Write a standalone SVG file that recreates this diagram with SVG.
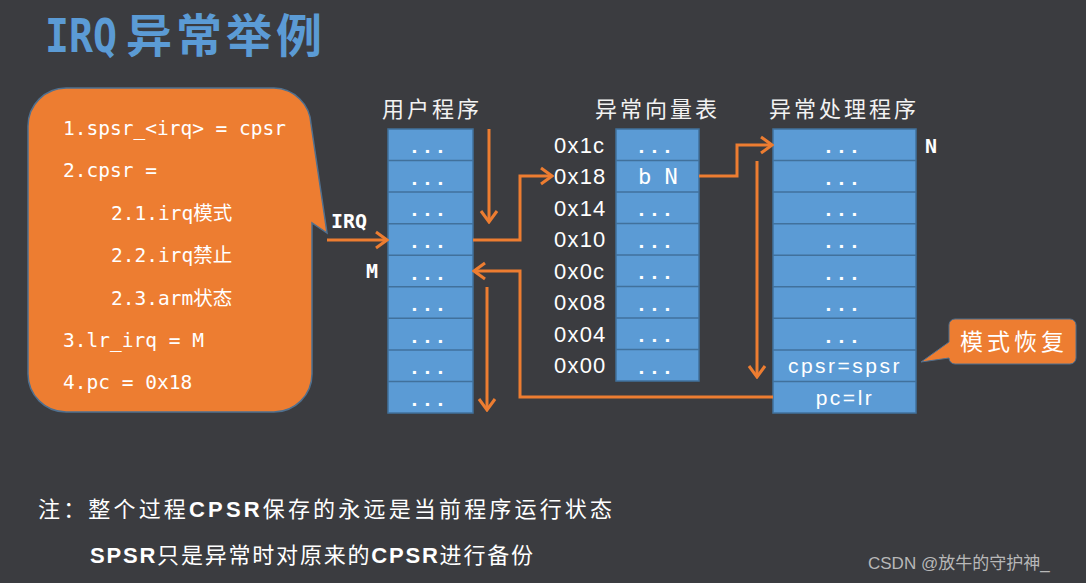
<svg xmlns="http://www.w3.org/2000/svg" width="1086" height="583" viewBox="0 0 1086 583">
<style>
.cell{fill:#5b9bd5;stroke:#41719c;stroke-width:1.5}
.sep{stroke:#41719c;stroke-width:1.5}
.dots{font-family:"Liberation Sans",sans-serif;font-weight:bold;font-size:21px;fill:#ffffff;letter-spacing:7.2px;text-anchor:middle}
.hdr{font-family:"Noto Sans CJK SC",sans-serif;font-size:22px;fill:#f2f2f2;letter-spacing:3px}
.addr{font-family:"Liberation Sans",sans-serif;font-size:22px;fill:#ffffff;letter-spacing:1.2px}
.mono{font-family:"DejaVu Sans Mono","Noto Sans CJK SC",monospace;fill:#ffffff}
.bub{font-family:"DejaVu Sans Mono","Noto Sans CJK SC",monospace;font-size:19.5px;fill:#ffffff}
.cell-txt{font-family:"Liberation Sans",sans-serif;font-size:21px;fill:#ffffff;letter-spacing:2.5px;text-anchor:middle}
.note{font-family:"Noto Sans CJK SC",sans-serif;font-size:22px;fill:#ffffff}
.arr{fill:none;stroke:#ed7d31;stroke-width:3;stroke-linejoin:miter}
</style>
<defs>
<marker id="ah" markerUnits="userSpaceOnUse" markerWidth="16" markerHeight="20" viewBox="0 0 16 20" refX="14" refY="10" orient="auto">
<path d="M3,2 L14,10 L3,18" fill="none" stroke="#ed7d31" stroke-width="3"/>
</marker>
</defs>
<rect width="1086" height="583" fill="#3b3c40"/>

<g id="title">
<text x="45" y="52" font-family="DejaVu Sans Mono,Liberation Sans,sans-serif" font-weight="bold" font-size="46" fill="#5b9bd5" textLength="72" lengthAdjust="spacingAndGlyphs">IRQ</text>
<text x="126" y="52" font-family="Noto Sans CJK SC,sans-serif" font-weight="bold" font-size="46" fill="#5b9bd5" letter-spacing="4">异常举例</text>
</g>

<g id="bubble">
<path d="M66,88 H274 A38,38 0 0 1 311,124 L327,233 L312,223 V374 A38,38 0 0 1 274,412 H66 A38,38 0 0 1 28,374 V126 A38,38 0 0 1 66,88 Z" fill="#ed7d31" stroke="#50708f" stroke-width="1.5"/>
<text class="bub" x="63" y="135">1.spsr_&lt;irq&gt; = cpsr</text>
<text class="bub" x="63" y="177">2.cpsr =</text>
<text class="bub" x="111" y="220">2.1.irq模式</text>
<text class="bub" x="111" y="262">2.2.irq禁止</text>
<text class="bub" x="111" y="305">2.3.arm状态</text>
<text class="bub" x="63" y="347">3.lr_irq = M</text>
<text class="bub" x="63" y="389">4.pc = 0x18</text>
</g>

<g id="user-program">
<text class="hdr" x="382" y="117">用户程序</text>
<rect class="cell" x="388" y="129" width="85" height="284"/>
<line class="sep" x1="388" y1="160.6" x2="473" y2="160.6"/>
<line class="sep" x1="388" y1="192.1" x2="473" y2="192.1"/>
<line class="sep" x1="388" y1="223.7" x2="473" y2="223.7"/>
<line class="sep" x1="388" y1="255.2" x2="473" y2="255.2"/>
<line class="sep" x1="388" y1="286.8" x2="473" y2="286.8"/>
<line class="sep" x1="388" y1="318.3" x2="473" y2="318.3"/>
<line class="sep" x1="388" y1="349.9" x2="473" y2="349.9"/>
<line class="sep" x1="388" y1="381.4" x2="473" y2="381.4"/>
<text class="dots" x="431" y="153.3">...</text>
<text class="dots" x="431" y="184.8">...</text>
<text class="dots" x="431" y="216.4">...</text>
<text class="dots" x="431" y="247.9">...</text>
<text class="dots" x="431" y="279.5">...</text>
<text class="dots" x="431" y="311.1">...</text>
<text class="dots" x="431" y="342.6">...</text>
<text class="dots" x="431" y="374.2">...</text>
<text class="dots" x="431" y="405.7">...</text>
<text class="mono" x="331" y="228" font-size="20" font-weight="bold">IRQ</text>
<text class="mono" x="366" y="278" font-size="20" font-weight="bold">M</text>
</g>

<g id="vector-table">
<text class="hdr" x="595" y="117">异常向量表</text>
<rect class="cell" x="616" y="129" width="83" height="252"/>
<line class="sep" x1="616" y1="160.5" x2="699" y2="160.5"/>
<line class="sep" x1="616" y1="192" x2="699" y2="192"/>
<line class="sep" x1="616" y1="223.5" x2="699" y2="223.5"/>
<line class="sep" x1="616" y1="255" x2="699" y2="255"/>
<line class="sep" x1="616" y1="286.5" x2="699" y2="286.5"/>
<line class="sep" x1="616" y1="318" x2="699" y2="318"/>
<line class="sep" x1="616" y1="349.5" x2="699" y2="349.5"/>
<text class="dots" x="658" y="153.2">...</text>
<text class="mono" x="638" y="184.3" font-size="22">b N</text>
<text class="dots" x="658" y="216.2">...</text>
<text class="dots" x="658" y="247.7">...</text>
<text class="dots" x="658" y="279.2">...</text>
<text class="dots" x="658" y="310.7">...</text>
<text class="dots" x="658" y="342.2">...</text>
<text class="dots" x="658" y="373.7">...</text>
<text class="addr" x="554" y="152.8">0x1c</text>
<text class="addr" x="554" y="184.3">0x18</text>
<text class="addr" x="554" y="215.8">0x14</text>
<text class="addr" x="554" y="247.3">0x10</text>
<text class="addr" x="554" y="278.8">0x0c</text>
<text class="addr" x="554" y="310.3">0x08</text>
<text class="addr" x="554" y="341.8">0x04</text>
<text class="addr" x="554" y="373.3">0x00</text>
</g>

<g id="handler">
<text class="hdr" x="769" y="117">异常处理程序</text>
<rect class="cell" x="773" y="129" width="143" height="284"/>
<line class="sep" x1="773" y1="160.6" x2="916" y2="160.6"/>
<line class="sep" x1="773" y1="192.1" x2="916" y2="192.1"/>
<line class="sep" x1="773" y1="223.7" x2="916" y2="223.7"/>
<line class="sep" x1="773" y1="255.2" x2="916" y2="255.2"/>
<line class="sep" x1="773" y1="286.8" x2="916" y2="286.8"/>
<line class="sep" x1="773" y1="318.3" x2="916" y2="318.3"/>
<line class="sep" x1="773" y1="349.9" x2="916" y2="349.9"/>
<line class="sep" x1="773" y1="381.4" x2="916" y2="381.4"/>
<text class="dots" x="845" y="153.3">...</text>
<text class="dots" x="845" y="184.8">...</text>
<text class="dots" x="845" y="216.4">...</text>
<text class="dots" x="845" y="247.9">...</text>
<text class="dots" x="845" y="279.5">...</text>
<text class="dots" x="845" y="311.1">...</text>
<text class="dots" x="845" y="342.6">...</text>
<text class="cell-txt" x="845" y="373">cpsr=spsr</text>
<text class="cell-txt" x="845" y="405">pc=lr</text>
<text class="mono" x="925" y="153" font-size="20" font-weight="bold">N</text>
</g>

<g id="mode-restore">
<path d="M955,319 H1070 A6,6 0 0 1 1076,325 V358 A6,6 0 0 1 1070,364 H955 A6,6 0 0 1 949,358 L921,362 L949,342 V325 A6,6 0 0 1 955,319 Z" fill="#ed7d31" stroke="#50708f" stroke-width="1"/>
<text x="960" y="350" font-family="Noto Sans CJK SC,sans-serif" font-size="23" fill="#ffffff" letter-spacing="4">模式恢复</text>
</g>

<g id="connectors">
<path class="arr" d="M327,240 H387" marker-end="url(#ah)"/>
<path class="arr" d="M489,129 V222" marker-end="url(#ah)"/>
<path class="arr" d="M473,240 H520 V176 H552" marker-end="url(#ah)"/>
<path class="arr" d="M699,176 H737 V145 H772" marker-end="url(#ah)"/>
<path class="arr" d="M757,161 V377" marker-end="url(#ah)"/>
<path class="arr" d="M773,397 H520 V271 H474" marker-end="url(#ah)"/>
<path class="arr" d="M487,287 V410" marker-end="url(#ah)"/>
</g>

<g id="notes">
<text class="note" x="38" y="517" textLength="574" lengthAdjust="spacing">注：整个过程<tspan font-weight="bold" font-family="Liberation Sans,sans-serif">CPSR</tspan>保存的永远是当前程序运行状态</text>
<text class="note" x="90" y="563" textLength="443" lengthAdjust="spacing"><tspan font-weight="bold" font-family="Liberation Sans,sans-serif">SPSR</tspan>只是异常时对原来的<tspan font-weight="bold" font-family="Liberation Sans,sans-serif">CPSR</tspan>进行备份</text>
<text x="868" y="569" font-family="Liberation Sans,Noto Sans CJK SC,sans-serif" font-size="17" fill="#b8b8b8">CSDN @放牛的守护神_</text>
</g>
</svg>
